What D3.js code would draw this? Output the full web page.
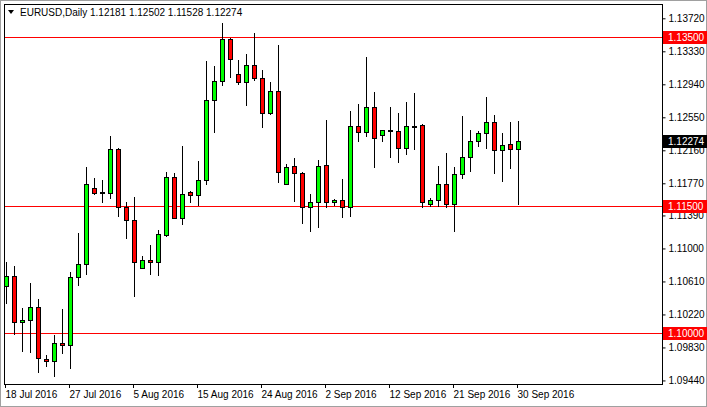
<!DOCTYPE html>
<html><head><meta charset="utf-8">
<script src="https://cdn.jsdelivr.net/npm/d3@7"></script>
<style>body{margin:0;background:#fff}svg{display:block}text{font-family:"Liberation Sans",Arial,sans-serif;font-size:10px}</style>
</head><body><svg id="c" width="707" height="407"></svg>
<script>
const opens=[1.10556,1.10675,1.10127,1.10155,1.10308,1.09694,1.09666,1.09887,1.09855,1.10663,1.10812,1.11711,1.11659,1.11651,1.12175,1.11486,1.11332,1.10765,1.10864,1.10836,1.11163,1.11840,1.11364,1.11663,1.11628,1.11805,1.12754,1.12975,1.13471,1.13058,1.12963,1.13164,1.13010,1.12597,1.12861,1.11758,1.11970,1.11888,1.11486,1.11553,1.11982,1.11545,1.11569,1.11486,1.12443,1.12372,1.12668,1.12337,1.12396,1.12392,1.12183,1.12443,1.12455,1.11521,1.11569,1.11758,1.11521,1.11876,1.12081,1.12266,1.12360,1.12490,1.12160,1.12231,1.12181];
const highs=[1.10844,1.10793,1.10300,1.10592,1.10403,1.09741,1.09977,1.10284,1.10726,1.11187,1.11967,1.11837,1.11809,1.12329,1.12187,1.11549,1.11608,1.10911,1.11041,1.11218,1.11903,1.11896,1.12215,1.11675,1.12033,1.13215,1.13156,1.13664,1.13491,1.13227,1.13298,1.13546,1.13109,1.12971,1.13408,1.11998,1.12069,1.11900,1.11644,1.12045,1.12522,1.11584,1.11821,1.12624,1.12707,1.13262,1.12853,1.12396,1.12672,1.12601,1.12731,1.12837,1.12471,1.11592,1.11974,1.12128,1.11967,1.12565,1.12400,1.12392,1.12794,1.12577,1.12364,1.12494,1.12502];
const lows=[1.10359,1.09985,1.09792,1.09780,1.09536,1.09615,1.09497,1.09768,1.09591,1.10568,1.10698,1.11647,1.11545,1.11600,1.11387,1.11128,1.10442,1.10765,1.10698,1.10686,1.11151,1.11364,1.11293,1.11549,1.11517,1.11758,1.12380,1.12935,1.13030,1.12939,1.12699,1.12991,1.12439,1.12585,1.11789,1.11758,1.11565,1.11305,1.11210,1.11258,1.11486,1.11510,1.11376,1.11387,1.12274,1.12333,1.11967,1.12274,1.12085,1.12026,1.12120,1.12175,1.11486,1.11506,1.11506,1.11486,1.11210,1.11837,1.11919,1.12215,1.12191,1.11896,1.11801,1.11955,1.11528];
const closes=[1.10675,1.10127,1.10155,1.10308,1.09702,1.09666,1.09879,1.09855,1.10663,1.10812,1.11762,1.11659,1.11663,1.12175,1.11486,1.11332,1.10836,1.10864,1.10836,1.11167,1.11840,1.11364,1.11640,1.11628,1.11805,1.12754,1.12975,1.13471,1.13235,1.12963,1.13164,1.13010,1.12597,1.12861,1.11900,1.11959,1.11888,1.11486,1.11545,1.11970,1.11545,1.11569,1.11486,1.12443,1.12372,1.12668,1.12301,1.12396,1.12392,1.12183,1.12443,1.12451,1.11545,1.11569,1.11758,1.11521,1.11876,1.12081,1.12266,1.12360,1.12490,1.12160,1.12219,1.12171,1.12274];
const dateLabels=["18 Jul 2016","27 Jul 2016","5 Aug 2016","15 Aug 2016","24 Aug 2016","2 Sep 2016","12 Sep 2016","21 Sep 2016","30 Sep 2016"];
const dateIdx=[0,8,16,24,32,40,48,56,64];
const priceTicks=[1.13720,1.13330,1.12940,1.12550,1.12160,1.11770,1.11390,1.11000,1.10610,1.10220,1.09830,1.09440];
const levels=[1.13500,1.11500,1.10000];
const lastPrice=1.12274;

const svg=d3.select("#c");
const L=4,R=662,T=4,B=384;
const y=d3.scaleLinear().domain([1.09398,1.13889]).range([B,T]);
const x=d3.scaleLinear().domain([0,1]).range([5.7,13.7]);
svg.append("rect").attr("x",0.5).attr("y",0.5).attr("width",706).attr("height",406).attr("fill","#fff").attr("stroke","#a0a0a0");
const g=svg.append("g");
g.selectAll(".lv").data(levels).join("line").attr("x1",L).attr("x2",R).attr("y1",d=>Math.round(y(d))+0.5).attr("y2",d=>Math.round(y(d))+0.5).attr("stroke","#ff0000");
const idx=d3.range(opens.length);
g.selectAll(".wk").data(idx).join("line").attr("x1",i=>Math.round(x(i))+0.5).attr("x2",i=>Math.round(x(i))+0.5)
 .attr("y1",i=>Math.round(y(highs[i]))).attr("y2",i=>Math.round(y(lows[i]))+1).attr("stroke","#000");
g.selectAll(".bd").data(idx).join("rect")
 .attr("x",i=>Math.round(x(i))-2+0.5).attr("width",4)
 .attr("y",i=>Math.round(y(Math.max(opens[i],closes[i])))+0.5)
 .attr("height",i=>Math.max(1,Math.round(y(Math.min(opens[i],closes[i])))-Math.round(y(Math.max(opens[i],closes[i])))))
 .attr("fill",i=>closes[i]>=opens[i]?"#00ff00":"#ff0000").attr("stroke","#000");
svg.append("rect").attr("x",L+0.5).attr("y",T+0.5).attr("width",R-L).attr("height",B-T).attr("fill","none").attr("stroke","#000");
const ax=svg.append("g").attr("transform",`translate(${R+0.5},0)`);
ax.call(d3.axisRight(y).tickValues(priceTicks).tickFormat(d3.format(".5f")).tickSize(3).tickPadding(3));
ax.select(".domain").remove();
ax.selectAll("text").attr("fill","#000").style("font-size","10px").style("font-family","Liberation Sans, Arial, sans-serif");
const tags=levels.map(v=>({v,bg:"#ff0000",fg:"#fff"})).concat([{v:lastPrice,bg:"#000",fg:"#fff"}]);
const tg=svg.selectAll(".tg").data(tags).join("g").attr("transform",d=>`translate(${R+1},${Math.round(y(d.v))})`);
tg.append("rect").attr("x",0).attr("y",-6).attr("width",44).attr("height",13).attr("fill",d=>d.bg);
tg.append("text").attr("x",5).attr("y",4).attr("fill",d=>d.fg).text(d=>d.v.toFixed(5));
const dg=svg.selectAll(".dt").data(dateIdx).join("g").attr("transform",i=>`translate(${Math.round(x(i))-0.5},${B})`);
dg.append("line").attr("y1",0).attr("y2",4).attr("stroke","#000");
dg.append("text").attr("x",0).attr("y",14).text((d,k)=>dateLabels[k]);
svg.append("path").attr("d","M8,10 L14,10 L11,14 Z").attr("fill","#000");
svg.append("text").attr("x",20).attr("y",16).text(`EURUSD,Daily  ${opens[64].toFixed(5)} ${highs[64].toFixed(5)} ${lows[64].toFixed(5)} ${closes[64].toFixed(5)}`);
</script></body></html>
